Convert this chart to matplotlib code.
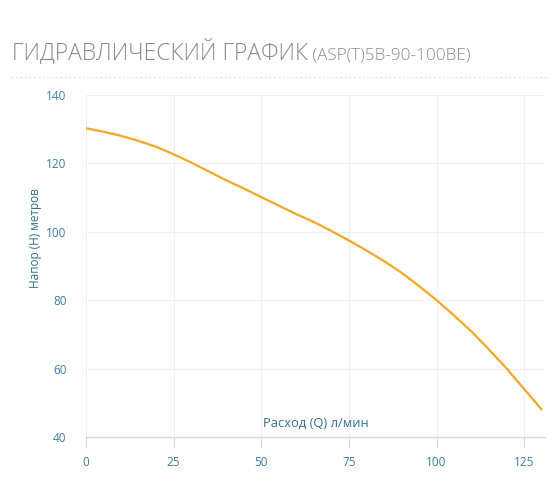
import matplotlib
matplotlib.use("Agg")
import matplotlib.pyplot as plt
from matplotlib.lines import Line2D

plt.rcParams['font.family'] = ['Open Sans', 'DejaVu Sans']

flow = [0, 5, 10, 15, 20, 25, 30, 35, 40, 45, 50, 55, 60, 65, 70, 75, 80, 85,
        90, 95, 100, 105, 110, 115, 120, 125, 130]
head = [130.2, 129.2, 128.0, 126.5, 124.8, 122.6, 120.2, 117.6, 115.0, 112.6,
        110.1, 107.6, 105.1, 102.8, 100.2, 97.4, 94.5, 91.4, 88.0, 84.1, 80.0,
        75.5, 70.8, 65.5, 60.0, 54.0, 48.0]
x_ticks = [0, 25, 50, 75, 100, 125]
y_ticks = [40, 60, 80, 100, 120, 140]

title_main = "ГИДРАВЛИЧЕСКИЙ ГРАФИК"
title_model = " (ASP(T)5B-90-100BE)"
x_label = "Расход (Q) л/мин"
y_label = "Напор (H) метров"

tick_color = "#3b7ea8"
fig = plt.figure(figsize=(5.6, 5.04), dpi=100)
ax = fig.add_axes([0.1536, 0.133, 0.82, 0.679])

ax.plot(flow, head, color="#f5a623", lw=1.6, solid_capstyle='round',
        solid_joinstyle='round')
ax.set_xlim(0, 131)
ax.set_ylim(40, 140)
ax.set_xticks(x_ticks)
ax.set_yticks(y_ticks)
ax.grid(True, color="#f0f0f4", lw=0.8)
ax.set_axisbelow(True)
for s in ['top', 'right', 'left']:
    ax.spines[s].set_visible(False)
ax.spines['bottom'].set_color("#d8d4e4")
ax.spines['bottom'].set_linewidth(1.0)
ax.tick_params(axis='x', colors="#d8d4e4", length=8, width=0.8, pad=6,
               labelcolor=tick_color, labelsize=8.5)
ax.tick_params(axis='y', length=0, pad=14, labelcolor=tick_color, labelsize=8.5)

ax.text(0.5, 0.022, x_label, transform=ax.transAxes, ha='center', va='bottom',
        color="#2f7094", fontsize=9.3)
fig.text(0.063, 0.527, y_label, rotation=90, ha='center', va='center',
         color="#2f7094", fontsize=8.5)

t = fig.text(0.021, 0.882, title_main, ha='left', va='baseline', color="#8a8a8a",
             fontsize=16.5, fontweight='light')
fig.canvas.draw()
bb = t.get_window_extent()
fig.text(bb.x1 / fig.bbox.width, 0.882, title_model, ha='left', va='baseline',
         color="#8a8a8a", fontsize=12.3, fontweight='light')

fig.add_artist(Line2D([0.02, 0.98], [0.847, 0.847], transform=fig.transFigure,
                      color="#e4e4e4", lw=0.8, ls=(0, (2, 2))))

fig.savefig("out.png", dpi=100)
